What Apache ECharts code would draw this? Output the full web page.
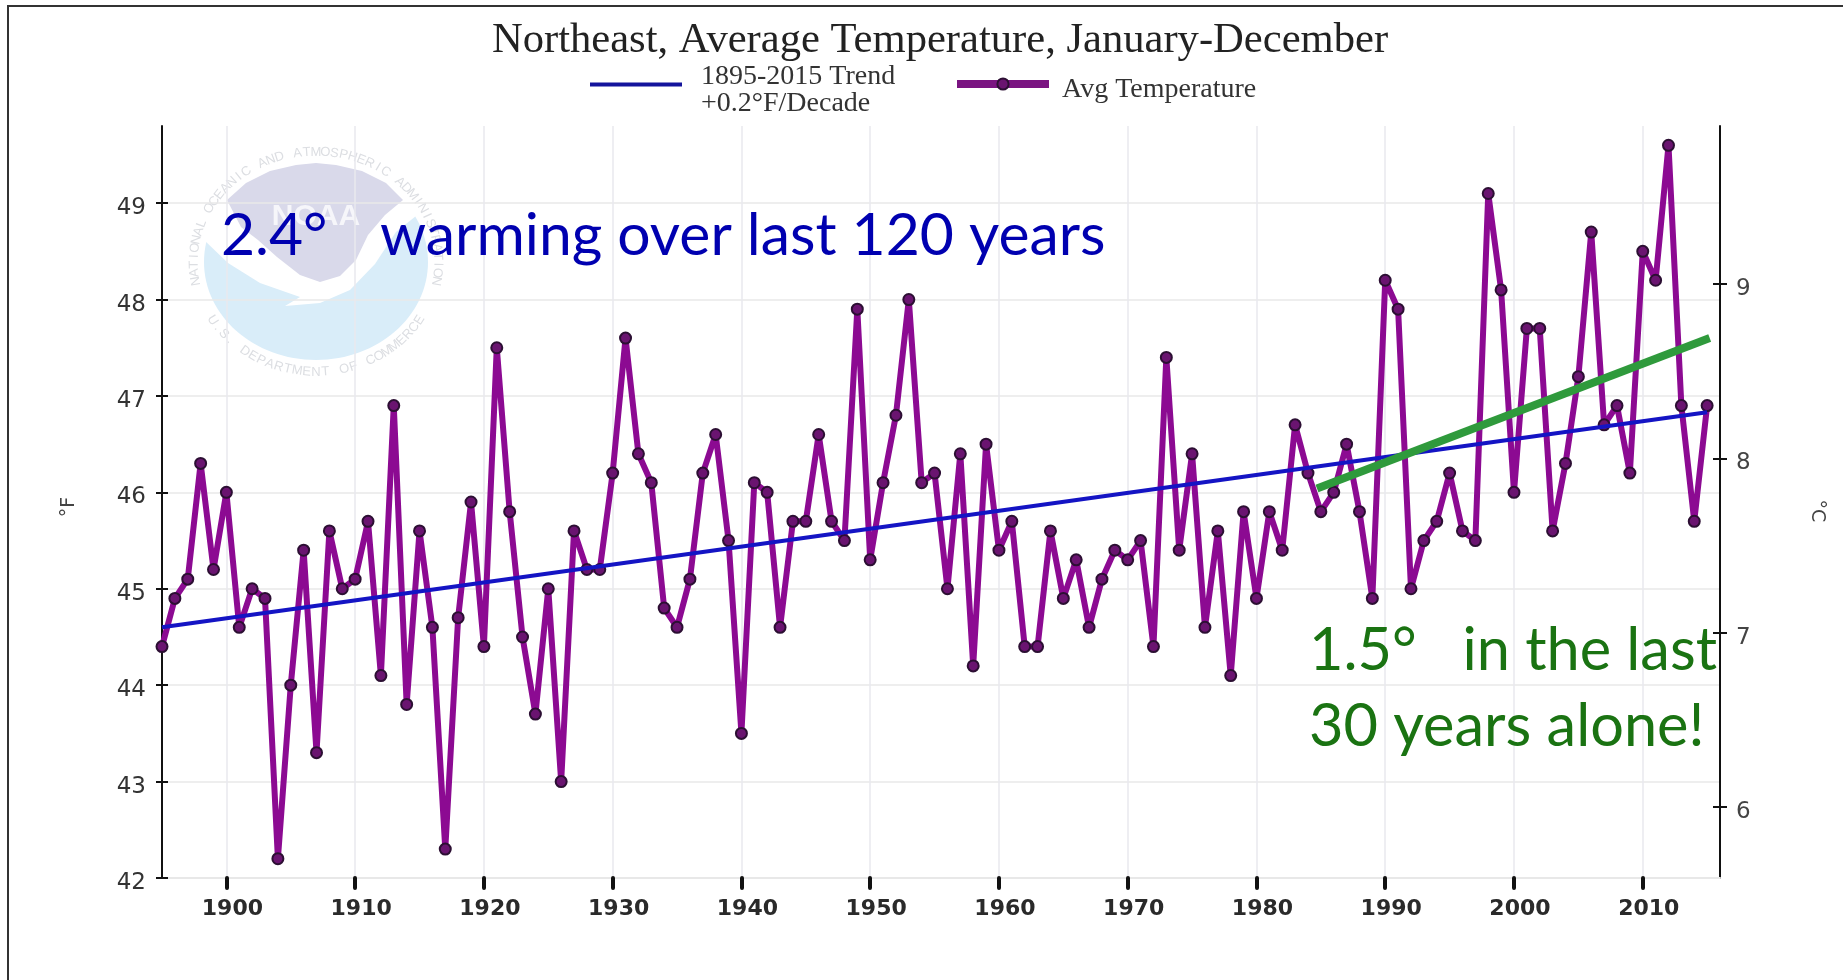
<!DOCTYPE html>
<html>
<head>
<meta charset="utf-8">
<title>Northeast, Average Temperature</title>
<script src="https://cdn.jsdelivr.net/npm/echarts@6/dist/echarts.min.js"></script>
<style>
html, body { margin: 0; padding: 0; background: #fff; }
#chart { width: 1843px; height: 980px; }
</style>
</head>
<body>
<div id="chart"></div>
<script>
//数据
var years = [];
for (var y = 1895; y <= 2015; y++) years.push(y);
var avgTemp = [
    44.4, 44.9, 45.1, 46.3, 45.2,
    46.0, 44.6, 45.0, 44.9, 42.2, 44.0, 45.4, 43.3, 45.6, 45.0,
    45.1, 45.7, 44.1, 46.9, 43.8, 45.6, 44.6, 42.3, 44.7, 45.9,
    44.4, 47.5, 45.8, 44.5, 43.7, 45.0, 43.0, 45.6, 45.2, 45.2,
    46.2, 47.6, 46.4, 46.1, 44.8, 44.6, 45.1, 46.2, 46.6, 45.5,
    43.5, 46.1, 46.0, 44.6, 45.7, 45.7, 46.6, 45.7, 45.5, 47.9,
    45.3, 46.1, 46.8, 48.0, 46.1, 46.2, 45.0, 46.4, 44.2, 46.5,
    45.4, 45.7, 44.4, 44.4, 45.6, 44.9, 45.3, 44.6, 45.1, 45.4,
    45.3, 45.5, 44.4, 47.4, 45.4, 46.4, 44.6, 45.6, 44.1, 45.8,
    44.9, 45.8, 45.4, 46.7, 46.2, 45.8, 46.0, 46.5, 45.8, 44.9,
    48.2, 47.9, 45.0, 45.5, 45.7, 46.2, 45.6, 45.5, 49.1, 48.1,
    46.0, 47.7, 47.7, 45.6, 46.3, 47.2, 48.7, 46.7, 46.9, 46.2,
    48.5, 48.2, 49.6, 46.9, 45.7, 46.9
];
var trendYears = [1895, 2015];
var trendValues = [44.6, 46.83];
var recentYears = [1984.7, 2015.2];
var recentValues = [46.04, 47.6];
var xTicks = [1900, 1910, 1920, 1930, 1940, 1950, 1960, 1970, 1980, 1990, 2000, 2010];
var fTicks = [42, 43, 44, 45, 46, 47, 48, 49];
var cTicks = [6, 7, 8, 9];

var trendName = "1895-2015 Trend\n+0.2°F/Decade";
var avgName = "Avg Temperature";

function pairs(xs, ys) {
    var out = [];
    for (var i = 0; i < xs.length; i++) out.push([xs[i], ys[i]]);
    return out;
}

//NOAA水印外圈文字
function ringText(str, startDeg, endDeg, cx, cy, rx, ry, bottom) {
    var list = [];
    for (var i = 0; i < str.length; i++) {
        var deg = startDeg + (endDeg - startDeg) * i / (str.length - 1);
        var rad = deg * Math.PI / 180;
        list.push({
            type: 'text', silent: true, z: -1,
            x: cx + rx * Math.sin(rad),
            y: cy - ry * Math.cos(rad),
            rotation: (bottom ? 180 - deg : -deg) * Math.PI / 180,
            style: {
                text: str[i], fill: '#dcdee2', align: 'center', verticalAlign: 'middle',
                font: '13px "Liberation Sans"'
            }
        });
    }
    return list;
}

var logoX = 316, logoY = 262;
var logo = [
    {
        type: 'ellipse', silent: true, z: -3,
        shape: {cx: logoX, cy: logoY, rx: 112, ry: 98},
        style: {fill: '#d9edf9'}
    },
    {
        //遮住上半部分和白色海鸥
        type: 'polygon', silent: true, z: -3,
        shape: {points: [[200, 150], [432, 150], [432, 215], [416, 216], [396, 232], [375, 264], [350, 290], [320, 303], [285, 306], [300, 297], [260, 283], [228, 263], [204, 240], [198, 240]]},
        style: {fill: '#ffffff'}
    },
    {
        type: 'polygon', silent: true, z: -2,
        shape: {points: [[227, 200], [246, 183], [270, 171], [296, 165], [316, 163], [336, 165], [362, 171], [386, 183], [403, 200], [385, 215], [368, 235], [356, 260], [340, 276], [320, 282], [300, 275], [277, 257], [258, 240], [241, 227]]},
        style: {fill: '#d9d9ea'}
    },
    {
        type: 'text', silent: true, z: -1,
        x: logoX, y: 217,
        style: {text: 'NOAA', fill: '#f6f6fa', align: 'center', verticalAlign: 'middle', font: 'bold 30px "Liberation Sans"'}
    }
].concat(ringText('NATIONAL OCEANIC AND ATMOSPHERIC ADMINISTRATION', -100, 100, logoX, logoY, 122, 110, false))
 .concat(ringText('U.S. DEPARTMENT OF COMMERCE', 238, 122, logoX, logoY, 122, 110, true));

var option = {
    backgroundColor: '#fff',
    animation: false,
    title: {
        text: 'Northeast, Average Temperature, January-December',
        left: 935, top: 14, textAlign: 'center',
        textStyle: {fontFamily: '"Liberation Serif"', fontSize: 42.6, fontWeight: 'normal', color: '#222'}
    },
    legend: [
        {
            data: [trendName], left: 585, top: 58,
            //图例线比文字中心高一点，用路径把线放在图标上部
            icon: 'path://M0 0L92 0L92 4L0 4ZM0 16L0 16Z',
            itemWidth: 92, itemHeight: 16, itemGap: 0,
            itemStyle: {color: '#14149c'},
            textStyle: {fontFamily: '"Liberation Serif"', fontSize: 28, color: '#333', lineHeight: 27, padding: [0, 0, 0, 14]}
        },
        {
            data: [avgName], left: 948, top: 71,
            itemWidth: 92, itemHeight: 14, itemGap: 0,
            lineStyle: {color: '#7a1481', width: 8},
            formatter: function (name) {
                return '{a|' + name + '}';
            },
            textStyle: {
                padding: [0, 0, 0, 8],
                rich: {
                    a: {fontFamily: '"Liberation Serif"', fontSize: 28, color: '#333', padding: [12, 0, 0, 0]}
                }
            }
        }
    ],
    grid: {left: 162, right: 123, top: 126, bottom: 102},
    xAxis: {
        type: 'value', min: 1895, max: 2016,
        axisLine: {show: true, lineStyle: {color: '#e8e8e8', width: 2}},
        axisTick: {customValues: xTicks, length: 10, lineStyle: {color: '#111', width: 4, cap: 'round'}},
        axisLabel: {
            customValues: xTicks, margin: 20, padding: [0, 0, 0, 12],
            formatter: function (v) { return String(v); },
            fontFamily: '"DejaVu Sans"', fontSize: 22, fontWeight: 'bold', color: '#2a2a2a'
        },
        splitLine: {show: true, lineStyle: {color: '#e9e9ee', width: 1.5}}
    },
    yAxis: [
        {
            type: 'value', min: 42, max: 49.8, position: 'left',
            name: '°F', nameLocation: 'middle', nameGap: 83, nameRotate: 90,
            nameTextStyle: {fontFamily: '"DejaVu Sans"', fontSize: 19, color: '#444', padding: [0, 10, 0, 0]},
            axisLine: {show: true, onZero: false, lineStyle: {color: '#111', width: 2}},
            axisTick: {show: true, customValues: fTicks, length: 6, lineStyle: {color: '#111', width: 2}},
            axisLabel: {
                customValues: fTicks, margin: 16,
                formatter: function (v) { return '{t|' + v + '}'; },
                rich: {t: {fontFamily: '"DejaVu Sans"', fontSize: 23, color: '#333', padding: [10, 0, 0, 0]}}
            },
            splitLine: {show: true, lineStyle: {color: '#e9e9e9', width: 1.5}}
        },
        {
            type: 'value', min: 5.594, max: 9.907, position: 'right',
            name: '°C', nameLocation: 'middle', nameGap: 87, nameRotate: -90,
            nameTextStyle: {fontFamily: '"DejaVu Sans"', fontSize: 19, color: '#444', padding: [0, 0, 0, 18]},
            axisLine: {show: true, onZero: false, lineStyle: {color: '#111', width: 2}},
            axisTick: {show: true, customValues: cTicks, length: 7, lineStyle: {color: '#111', width: 2}},
            axisLabel: {
                customValues: cTicks, margin: 16,
                formatter: function (v) { return '{t|' + v + '}'; },
                rich: {t: {fontFamily: '"DejaVu Sans"', fontSize: 23, color: '#444', padding: [10, 0, 0, 0]}}
            },
            splitLine: {show: false}
        },
        //另外两个轴只画内侧刻度，让刻度穿过轴线
        {
            type: 'value', min: 42, max: 49.8, position: 'left',
            axisLine: {show: false},
            axisTick: {show: true, inside: true, customValues: fTicks, length: 6, lineStyle: {color: '#111', width: 2}},
            axisLabel: {show: false},
            splitLine: {show: false}
        },
        {
            type: 'value', min: 5.594, max: 9.907, position: 'right',
            axisLine: {show: false},
            axisTick: {show: true, inside: true, customValues: cTicks, length: 7, lineStyle: {color: '#111', width: 2}},
            axisLabel: {show: false},
            splitLine: {show: false}
        }
    ],
    series: [
        {
            name: avgName, type: 'line', yAxisIndex: 0, z: 3,
            data: pairs(years, avgTemp),
            showAllSymbol: true, symbol: 'circle', symbolSize: 11,
            lineStyle: {color: '#8c0a92', width: 6, join: 'round'},
            itemStyle: {color: '#6a1470', borderColor: '#2c0f33', borderWidth: 2}
        },
        {
            name: trendName, type: 'line', yAxisIndex: 0, z: 4,
            data: pairs(trendYears, trendValues),
            symbol: 'none',
            lineStyle: {color: '#1414c4', width: 4},
            itemStyle: {color: '#1414c4'}
        },
        {
            name: 'Recent trend', type: 'line', yAxisIndex: 0, z: 5,
            data: pairs(recentYears, recentValues),
            symbol: 'none',
            lineStyle: {color: '#2f9a3c', width: 8, cap: 'butt'}
        }
    ],
    graphic: logo.concat([
        //外框
        {
            type: 'polyline', silent: true, z: 10,
            shape: {points: [[8, 980], [8, 6], [1843, 6]]},
            style: {stroke: '#333', lineWidth: 2, fill: 'none'}
        },
        {
            type: 'text', silent: true, z: 10, x: 221, y: 236,
            style: {
                text: '2.4°   \u2009warming over last 120 years', fill: '#0000b0',
                verticalAlign: 'middle', font: '58.8px Lato'
            }
        },
        {
            type: 'text', silent: true, z: 10, x: 1309, y: 613,
            style: {
                text: '1.5°   in the last\n30 years alone!', fill: '#1a7312',
                lineHeight: 76, verticalAlign: 'top', font: '59.5px Lato'
            }
        }
    ])
};

var myChart = echarts.init(document.getElementById("chart"));
myChart.setOption(option);
</script>
</body>
</html>
